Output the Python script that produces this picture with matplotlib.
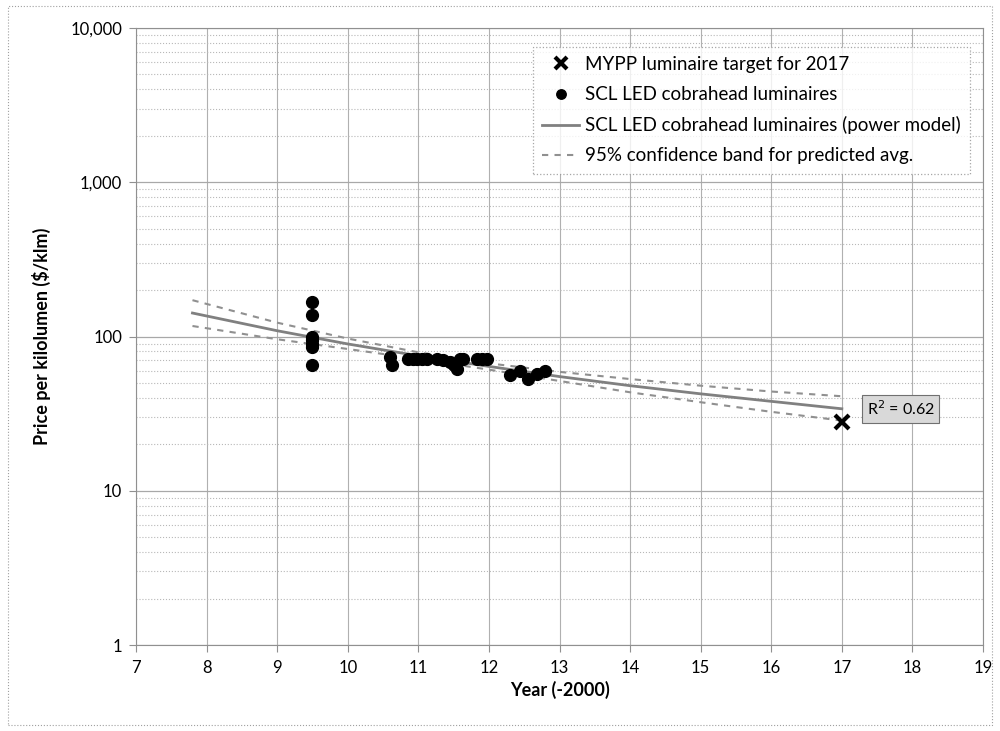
import numpy as np
import matplotlib.pyplot as plt
from matplotlib.ticker import FixedLocator, FuncFormatter, LogLocator, NullFormatter
from matplotlib.patches import Rectangle

plt.rcParams['font.family'] = ['Lato', 'DejaVu Sans']

# SCL LED cobrahead luminaires (year - 2000, $/klm)
scl_year = [9.5, 9.5, 9.5, 9.5, 9.5, 9.5, 9.5,
            10.6, 10.62, 10.85, 10.92, 10.98, 11.05, 11.12,
            11.26, 11.35, 11.45, 11.5, 11.55, 11.59, 11.63,
            11.83, 11.9, 11.97,
            12.3, 12.44, 12.55, 12.68, 12.8]
scl_price = [167, 137, 100, 95, 90, 85, 65,
             74, 65, 72, 72, 72, 72, 72,
             72, 70, 68, 65, 62, 72, 72,
             72, 72, 72,
             56, 60, 53, 57, 60]

# MYPP target for 2017
target_year = [17]
target_price = [28]

# power model fit and 95% confidence band
model_year = [7.8, 9, 10, 11, 12, 13, 14, 15, 16, 17]
model_mid = [142, 109, 89.5, 75, 64, 55, 48, 42.5, 38, 34]
model_upper = [172, 123, 97, 79, 67, 59, 53, 48, 44, 41]
model_lower = [117, 96, 83, 71.5, 61, 51.5, 43.5, 37.5, 32.5, 28.5]

r2_text = 'R$^2$ = 0.62'
x_ticks = list(range(7, 20))
y_ticks = [1, 10, 100, 1000, 10000]

fig = plt.figure(figsize=(10, 7.31), dpi=100)
ax = fig.add_axes([0.136, 0.1176, 0.847, 0.8441])

# outer frame around the whole chart
fig.patches.append(Rectangle((0.008, 0.008), 0.984, 0.984, transform=fig.transFigure,
                             fill=False, edgecolor='#a0a0a0', linewidth=0.8, linestyle=':'))

ax.set_yscale('log')
ax.set_xlim(7, 19)
ax.set_ylim(1, 10000)

ax.yaxis.set_major_locator(FixedLocator(y_ticks))
ax.yaxis.set_major_formatter(FuncFormatter(lambda v, p: f'{int(v):,}'))
ax.yaxis.set_minor_locator(LogLocator(base=10, subs=np.arange(2, 10)))
ax.yaxis.set_minor_formatter(NullFormatter())
ax.set_xticks(x_ticks)

ax.grid(True, which='major', axis='y', color='#a8a8a8', linewidth=0.9, linestyle='-')
ax.grid(True, which='minor', axis='y', color='#b8b8b8', linewidth=0.8, linestyle=':')
ax.grid(True, which='major', axis='x', color='#b0b0b0', linewidth=0.8, linestyle='-')
ax.set_axisbelow(True)

for s in ax.spines.values():
    s.set_color('#909090')
    s.set_linewidth(0.8)
ax.tick_params(axis='both', which='major', length=5, color='#909090', labelsize=12, direction='out')
ax.tick_params(axis='y', which='minor', length=0)
ax.tick_params(axis='x', pad=6)
ax.tick_params(axis='y', pad=5)

ax.plot(target_year, target_price, linestyle='none', marker='x', color='black',
        markersize=10, markeredgewidth=3, label='MYPP luminaire target for 2017', zorder=5)
ax.plot(scl_year, scl_price, linestyle='none', marker='o', color='black',
        markersize=8.5, label='SCL LED cobrahead luminaires', zorder=4)
ax.plot(model_year, model_mid, color='#808080', linewidth=2,
        label='SCL LED cobrahead luminaires (power model)', zorder=3)
ax.plot(model_year, model_upper, color='#909090', linewidth=1.5, linestyle=(0, (3, 3)),
        label='95% confidence band for predicted avg.', zorder=3)
ax.plot(model_year, model_lower, color='#909090', linewidth=1.5, linestyle=(0, (3, 3)), zorder=3)

ax.text(17.35, 34, r2_text, fontsize=11.5, va='center', ha='left',
        bbox=dict(boxstyle='square,pad=0.3', facecolor='#d9d9d9', edgecolor='#707070', linewidth=0.8))

ax.set_xlabel('Year (-2000)', fontsize=13, fontweight='bold', labelpad=3)
ax.set_ylabel('Price per kilolumen ($/klm)', fontsize=13, fontweight='bold', labelpad=14)

leg = ax.legend(loc='upper right', bbox_to_anchor=(0.996, 0.985), fontsize=13.5,
                frameon=True, fancybox=False, handlelength=2.0, handletextpad=0.3,
                borderpad=0.5, labelspacing=0.7, markerscale=0.8)
leg.get_frame().set_edgecolor('#909090')
leg.get_frame().set_linestyle(':')
leg.get_frame().set_linewidth(0.9)

fig.savefig('out.png', dpi=100)
